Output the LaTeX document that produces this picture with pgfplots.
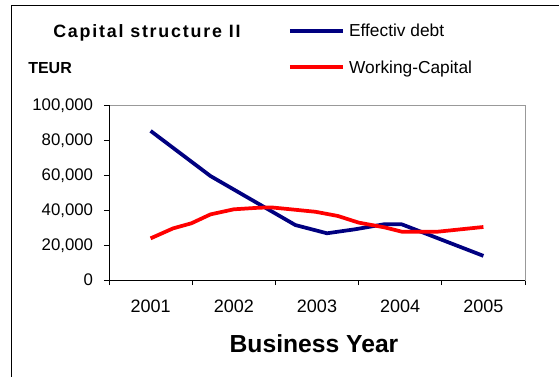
\documentclass[border=0pt]{standalone}
\usepackage{fontspec}
\setmainfont{Liberation Sans}
\newfontfamily\titlefont[LetterSpace=10]{Liberation Sans}
\usepackage{pgfplots}
\pgfplotsset{compat=1.18}
\definecolor{debtblue}{RGB}{0,0,128}
\definecolor{wcred}{RGB}{255,0,0}
\begin{document}
\begin{tikzpicture}
\useasboundingbox (-81.75pt,-72pt) rectangle (337.5pt,210pt);
\begin{axis}[
  name=ax, at={(0pt,0pt)}, anchor=south west,
  scale only axis, width=312pt, height=131.25pt,
  xmin=-0.5, xmax=4.5, ymin=0, ymax=100000,
  xtick={-0.5,0.5,1.5,2.5,3.5,4.5},
  xticklabels={2001,2002,2003,2004,2005,{}},
  ytick={0,20000,40000,60000,80000,100000},
  scaled y ticks=false,
  /pgf/number format/.cd, fixed, 1000 sep={,}, assume math mode=true, /pgfplots/.cd,
  tick pos=left, tick align=outside, major tick length=3.75pt,
  tick style={black, line width=0.6pt},
  axis line style={draw=gray!80, line width=0.75pt},
  xticklabel style={anchor=base, inner sep=0pt, xshift=31.2pt, yshift=-20.5pt, font=\fontsize{13.5}{15}\selectfont},
  yticklabel style={anchor=base east, inner sep=0pt, xshift=-8pt, yshift=-4.45pt, font=\fontsize{12.6}{14}\selectfont},
  xlabel={Business Year},
  xlabel style={at={(axis description cs:0.4928,-0.414)}, anchor=base, inner sep=0pt, font=\bfseries\fontsize{18.5}{20}\selectfont},
  legend style={at={(axis description cs:0.4303,1.4659)}, anchor=north west, draw=none, fill=none, inner sep=0pt, outer sep=0pt,
    row sep=14.45pt, column sep=3pt,
    nodes={inner sep=0pt, outer sep=0pt, text height=10pt, text depth=3pt, anchor=base west, font=\fontsize{13}{15}\selectfont}},
  legend cell align=left,
  legend image code/.code={\draw[#1] (0pt,4.6pt) -- (40pt,4.6pt);},
  clip=false,
]
\addplot[debtblue, line width=2.8pt, line join=round] coordinates {
  (0,85200) (0.72,59400) (1.74,31400) (2.12,26700) (2.46,29000) (2.80,31800) (3.02,31800) (4.0,13800)
};
\addlegendentry{Effectiv debt}
\addplot[wcred, line width=2.8pt, line join=round] coordinates {
  (0,23800) (0.27,29500) (0.49,32400) (0.72,37500) (1.0,40400) (1.3,41300) (1.45,41500)
  (1.98,39000) (2.25,36600) (2.5,32800) (2.82,30000) (3.02,27600) (3.45,27600) (4.0,30300)
};
\addlegendentry{Working-Capital}
\draw[black, line width=0.75pt] (rel axis cs:0,1) -- (rel axis cs:0,0) -- (rel axis cs:1,0);
\end{axis}
\node[anchor=base west, inner sep=0pt] at (-42pt,181.9pt) {\titlefont\bfseries\fontsize{13.4}{15}\selectfont Capital structure II};
\node[anchor=base west, inner sep=0pt] at (-60.75pt,154.7pt) {\bfseries\fontsize{12}{14}\selectfont TEUR};
\draw[black, line width=0.75pt] (-72.75pt,-90pt) -- (-72.75pt,206.25pt) -- (350pt,206.25pt);
\end{tikzpicture}
\end{document}
